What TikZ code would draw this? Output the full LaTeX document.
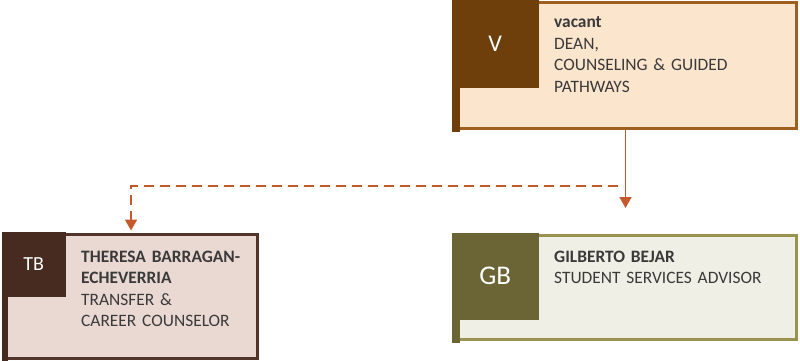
\documentclass[tikz,border=0pt]{standalone}
\usepackage{fontspec}
\setmainfont{Carlito}
\usetikzlibrary{positioning,arrows.meta}

\definecolor{deanDark}{HTML}{6F3F0B}
\definecolor{deanLine}{HTML}{9E5E1F}
\definecolor{deanFill}{HTML}{FBE5CD}
\definecolor{tbDark}{HTML}{472B20}
\definecolor{tbLine}{HTML}{52342A}
\definecolor{tbFill}{HTML}{EAD9D3}
\definecolor{gbDark}{HTML}{6B6536}
\definecolor{gbLine}{HTML}{9A934F}
\definecolor{gbFill}{HTML}{F0EFE5}
\definecolor{linkColor}{HTML}{C4592B}
\definecolor{txt}{HTML}{3A3A3A}

\tikzset{
  card/.style={draw, line width=3pt, inner sep=0pt},
  badge/.style={anchor=north west, inner sep=0pt, text=white},
  info/.style={anchor=base west, inner sep=0pt, text width=240pt, align=left,
    text=txt, font=\fontsize{17.4}{21.5}\selectfont},
  link/.style={draw=linkColor, line width=1.8pt, -{Triangle[width=12pt,length=11pt]}}
}

\begin{document}
\begin{tikzpicture}[x=1pt,y=-1pt]
\useasboundingbox (0,0) rectangle (800,361);

% boxes
\node[card, draw=deanLine, fill=deanFill, minimum width=342pt, minimum height=126pt] (dean) at (625.5,65.5) {};
\node[card, draw=tbLine, fill=tbFill, minimum width=253pt, minimum height=124pt] (counselor) at (131,296.5) {};
\node[card, draw=gbLine, fill=gbFill, minimum width=342pt, minimum height=104pt] (advisor) at (625.5,287.5) {};

% left strips
\fill[deanDark] ([xshift=-1.5pt,yshift=1.5pt]dean.north west) rectangle ([xshift=6.5pt,yshift=-1.5pt]dean.south west);
\fill[tbDark] ([xshift=-1.5pt,yshift=1.5pt]counselor.north west) rectangle ([xshift=4.5pt,yshift=-1.5pt]counselor.south west);
\fill[gbDark] ([xshift=-1.5pt,yshift=1.5pt]advisor.north west) rectangle ([xshift=6.5pt,yshift=-1.5pt]advisor.south west);

% initials
\node[badge, fill=deanDark, minimum width=87pt, minimum height=88pt, font=\fontsize{24}{28}\selectfont]
  (deanBadge) at ([xshift=-1.5pt,yshift=1.5pt]dean.north west) {V};
\node[badge, fill=tbDark, minimum width=64pt, minimum height=65pt, font=\fontsize{20}{24}\selectfont]
  (counselorBadge) at ([xshift=-1.5pt,yshift=1.5pt]counselor.north west) {TB};
\node[badge, fill=gbDark, minimum width=87pt, minimum height=87pt, font=\fontsize{27}{32}\selectfont]
  (advisorBadge) at ([xshift=-1.5pt,yshift=1.5pt]advisor.north west) {GB};

% names and titles
\node[info] (deanText) at (554,28) {\textbf{vacant}\\DEAN,\\COUNSELING \& GUIDED\\PATHWAYS};
\node[info, text width=178pt] (counselorText) at (81,262) {\textbf{THERESA BARRAGAN-}\\\textbf{ECHEVERRIA}\\TRANSFER \&\\CAREER COUNSELOR};
\node[info] (advisorText) at (554,262) {\textbf{GILBERTO BEJAR}\\STUDENT SERVICES ADVISOR};

% reporting lines
\coordinate (split) at (618,186);
\draw[link, shorten >=26pt] (dean.south) -- (advisor.north);
\draw[link, dash pattern=on 10pt off 6pt, shorten >=2.5pt] (split) -| (counselor.north);
\end{tikzpicture}
\end{document}
